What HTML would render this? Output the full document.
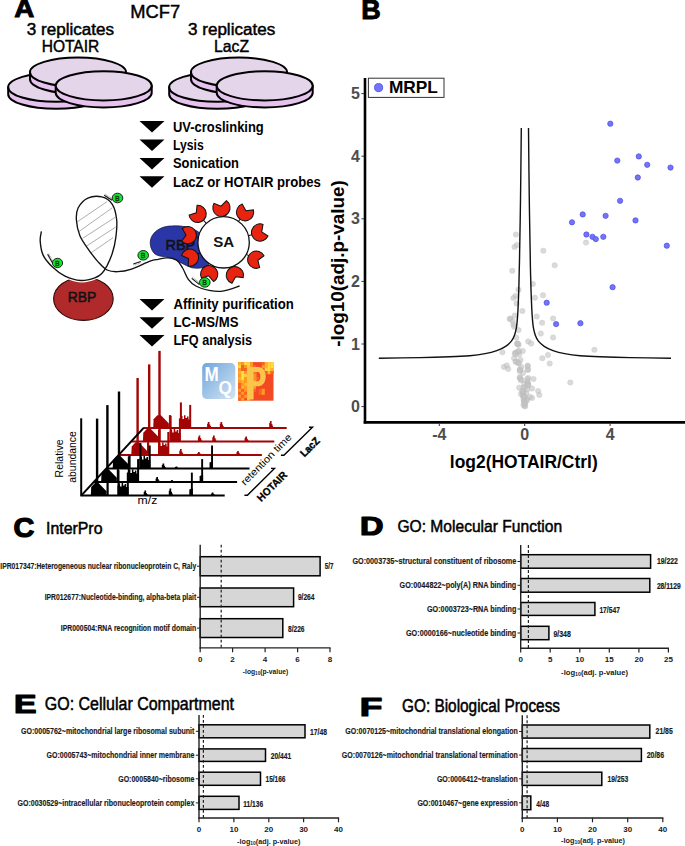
<!DOCTYPE html>
<html><head><meta charset="utf-8"><title>Figure</title>
<style>
html,body{margin:0;padding:0;background:#fff;width:685px;height:846px;overflow:hidden}
svg{display:block}
text{font-family:"Liberation Sans",sans-serif}
</style></head>
<body>
<svg width="685" height="846" viewBox="0 0 685 846">
<rect width="685" height="846" fill="#fff"/>
<text x="0" y="0" transform="translate(14.3,17.3) scale(1.07,1)" font-size="26" font-weight="bold" stroke="#000" stroke-width="0.9">A</text>
<text x="130.3" y="17.9" font-size="18.5" font-weight="normal" fill="#000" textLength="49.9" lengthAdjust="spacingAndGlyphs" stroke="#000" stroke-width="0.45">MCF7</text>
<text x="26.8" y="34.6" font-size="15.6" font-weight="normal" fill="#000" textLength="87.2" lengthAdjust="spacingAndGlyphs" stroke="#000" stroke-width="0.45">3 replicates</text>
<text x="41.7" y="52.4" font-size="16.6" font-weight="normal" fill="#000" textLength="57.6" lengthAdjust="spacingAndGlyphs" stroke="#000" stroke-width="0.45">HOTAIR</text>
<text x="188.0" y="34.6" font-size="15.6" font-weight="normal" fill="#000" textLength="87.2" lengthAdjust="spacingAndGlyphs" stroke="#000" stroke-width="0.45">3 replicates</text>
<text x="214.0" y="52.4" font-size="16.6" font-weight="normal" fill="#000" textLength="35.0" lengthAdjust="spacingAndGlyphs" stroke="#000" stroke-width="0.45">LacZ</text>
<path d="M8.2,87.2 L8.2,94.2 A48,14.6 0 0 0 104.2,94.2 L104.2,87.2 Z" fill="#E6C3EE" stroke="#000" stroke-width="2" stroke-linejoin="round"/>
<ellipse cx="56.2" cy="87.2" rx="48" ry="14.6" fill="#E5D5EA" stroke="#000" stroke-width="2"/>
<path d="M30.0,72.2 L30.0,79.2 A48,14.6 0 0 0 126.0,79.2 L126.0,72.2 Z" fill="#E6C3EE" stroke="#000" stroke-width="2" stroke-linejoin="round"/>
<ellipse cx="78.0" cy="72.2" rx="48" ry="14.6" fill="#E5D5EA" stroke="#000" stroke-width="2"/>
<path d="M55.7,85.8 L55.7,92.8 A48,14.6 0 0 0 151.7,92.8 L151.7,85.8 Z" fill="#E6C3EE" stroke="#000" stroke-width="2" stroke-linejoin="round"/>
<ellipse cx="103.7" cy="85.8" rx="48" ry="14.6" fill="#E5D5EA" stroke="#000" stroke-width="2"/>
<path d="M169.2,87.2 L169.2,94.2 A48,14.6 0 0 0 265.2,94.2 L265.2,87.2 Z" fill="#E6C3EE" stroke="#000" stroke-width="2" stroke-linejoin="round"/>
<ellipse cx="217.2" cy="87.2" rx="48" ry="14.6" fill="#E5D5EA" stroke="#000" stroke-width="2"/>
<path d="M191.0,72.2 L191.0,79.2 A48,14.6 0 0 0 287.0,79.2 L287.0,72.2 Z" fill="#E6C3EE" stroke="#000" stroke-width="2" stroke-linejoin="round"/>
<ellipse cx="239.0" cy="72.2" rx="48" ry="14.6" fill="#E5D5EA" stroke="#000" stroke-width="2"/>
<path d="M216.7,85.8 L216.7,92.8 A48,14.6 0 0 0 312.7,92.8 L312.7,85.8 Z" fill="#E6C3EE" stroke="#000" stroke-width="2" stroke-linejoin="round"/>
<ellipse cx="264.7" cy="85.8" rx="48" ry="14.6" fill="#E5D5EA" stroke="#000" stroke-width="2"/>
<path d="M139.5,121.0 L164.5,121.0 L152,132.5 Z" fill="#000"/>
<text x="173.0" y="131.5" font-size="14" font-weight="bold" fill="#000" textLength="90.8" lengthAdjust="spacingAndGlyphs" >UV-croslinking</text>
<path d="M139.5,139.4 L164.5,139.4 L152,150.9 Z" fill="#000"/>
<text x="173.0" y="149.9" font-size="14" font-weight="bold" fill="#000" textLength="30.7" lengthAdjust="spacingAndGlyphs" >Lysis</text>
<path d="M139.5,157.9 L164.5,157.9 L152,169.4 Z" fill="#000"/>
<text x="173.0" y="168.4" font-size="14" font-weight="bold" fill="#000" textLength="65.9" lengthAdjust="spacingAndGlyphs" >Sonication</text>
<path d="M139.5,176.2 L164.5,176.2 L152,187.7 Z" fill="#000"/>
<text x="173.0" y="186.7" font-size="14" font-weight="bold" fill="#000" textLength="147.8" lengthAdjust="spacingAndGlyphs" >LacZ or HOTAIR probes</text>
<path d="M139.5,299.0 L164.5,299.0 L152,310.5 Z" fill="#000"/>
<text x="173.4" y="308.6" font-size="14" font-weight="bold" fill="#000" textLength="120.4" lengthAdjust="spacingAndGlyphs" >Affinity purification</text>
<path d="M139.5,317.2 L164.5,317.2 L152,328.7 Z" fill="#000"/>
<text x="173.4" y="326.8" font-size="14" font-weight="bold" fill="#000" textLength="65.1" lengthAdjust="spacingAndGlyphs" >LC-MS/MS</text>
<path d="M139.5,335.0 L164.5,335.0 L152,346.5 Z" fill="#000"/>
<text x="173.4" y="344.6" font-size="14" font-weight="bold" fill="#000" textLength="78.7" lengthAdjust="spacingAndGlyphs" >LFQ analysis</text>
<defs><clipPath id="rbpclip"><path d="M40.2,243.0 C40.7,245.3 41.0,252.6 43.1,257.0 C45.2,261.4 49.1,265.7 52.8,269.2 C56.4,272.7 60.3,275.8 65.0,278.0 C69.7,280.2 75.8,282.1 80.8,282.4 C85.8,282.7 91.3,281.0 94.8,279.8 C98.3,278.6 99.8,277.4 101.8,275.4 C103.8,273.3 105.3,270.9 107.1,267.5 C108.8,264.1 111.4,257.2 112.3,255.2 L125,340 L35,340 Z"/></clipPath></defs>
<ellipse cx="83.4" cy="298.8" rx="29.8" ry="21.6" fill="#B02A2C" stroke="#2a0808" stroke-width="1.1" clip-path="url(#rbpclip)"/>
<text x="67.7" y="302.4" font-size="14" font-weight="normal" fill="#111" textLength="28.5" lengthAdjust="spacingAndGlyphs" stroke="#111" stroke-width="0.5">RBP</text>
<defs><clipPath id="loopclip"><path d="M101.8,273.5 C102.7,272.2 105.3,269.0 107.1,265.6 C108.8,262.2 110.8,258.0 112.3,253.3 C113.8,248.6 115.1,243.2 115.8,237.6 C116.5,232.0 117.3,225.6 116.7,220.0 C116.1,214.4 114.8,208.2 112.3,204.3 C109.8,200.5 105.9,197.9 101.8,196.9 C97.7,195.9 91.7,196.3 87.8,198.1 C83.9,199.9 80.1,204.2 78.2,207.8 C76.3,211.5 76.1,215.3 76.4,220.0 C76.7,224.7 77.9,230.8 79.9,235.8 C82.0,240.8 85.6,245.4 88.7,249.8 C91.8,254.2 95.2,258.7 98.3,262.1 C101.4,265.5 105.6,268.7 107.1,270.0 Z"/></clipPath></defs>
<g clip-path="url(#loopclip)" stroke="#8a8a8a" stroke-width="0.7">
<line x1="77.3" y1="221.8" x2="107.1" y2="201.6"/>
<line x1="79.1" y1="231.4" x2="112.3" y2="207.8"/>
<line x1="82.6" y1="238.4" x2="115" y2="217.4"/>
<line x1="86.1" y1="246.3" x2="115.8" y2="227"/>
<line x1="90.4" y1="253.3" x2="113.2" y2="237.6"/>
</g>
<path d="M152,250 C146,238 156,226 172,226 C188,225 200,230 206,240 L210,262 C208,268 200,268.8 192,267.8 C184,265.5 178,260 170,257.5 C162,256 155,257 152,250 Z" fill="#2B36A6" stroke="#1a1a4a" stroke-width="0.8"/>
<text x="165.5" y="249.7" font-size="14" font-weight="normal" fill="#111" textLength="29.7" lengthAdjust="spacingAndGlyphs" stroke="#111" stroke-width="0.55">RBP</text>
<path d="M41.4,231.4 C41.2,233.0 39.9,237.2 40.2,241.1 C40.5,245.0 41.0,250.7 43.1,255.1 C45.2,259.5 49.1,263.8 52.8,267.3 C56.4,270.8 60.3,273.9 65.0,276.1 C69.7,278.3 75.8,280.2 80.8,280.5 C85.8,280.8 91.3,279.1 94.8,277.9 C98.3,276.7 99.8,275.6 101.8,273.5 C103.8,271.4 105.3,269.0 107.1,265.6 C108.8,262.2 110.8,258.0 112.3,253.3 C113.8,248.6 115.1,243.2 115.8,237.6 C116.5,232.0 117.3,225.6 116.7,220.0 C116.1,214.4 114.8,208.2 112.3,204.3 C109.8,200.5 105.9,197.9 101.8,196.9 C97.7,195.9 91.7,196.3 87.8,198.1 C83.9,199.9 80.1,204.2 78.2,207.8 C76.3,211.5 76.1,215.3 76.4,220.0 C76.7,224.7 77.9,230.8 79.9,235.8 C82.0,240.8 85.6,245.4 88.7,249.8 C91.8,254.2 95.2,258.7 98.3,262.1 C101.4,265.5 103.9,268.4 107.1,270.0 C110.3,271.6 113.5,271.8 117.6,271.7 C121.7,271.6 126.2,270.9 131.6,269.1 C137.0,267.4 145.6,262.8 150.0,261.2 C154.4,259.6 155.1,259.9 158.0,259.4 C160.9,258.8 164.2,257.7 167.4,257.9 C170.6,258.1 174.5,258.7 177.0,260.4 C179.5,262.1 180.7,264.9 182.6,268.0 C184.5,271.1 186.1,276.3 188.3,279.3 C190.5,282.3 192.4,284.1 195.9,286.0 C199.4,287.9 204.8,289.5 209.2,290.4 C213.6,291.2 217.4,291.8 222.5,291.1 C227.6,290.4 236.8,286.9 239.6,286.0" fill="none" stroke="#111" stroke-width="1.35"/>
<g transform="translate(197.6,213.9) rotate(-42.5)"><line x1="0" y1="7.5" x2="0" y2="13.3" stroke="#111" stroke-width="1"/><path transform="rotate(-8) scale(1.08)" d="M-5.85,-5.45 A8,8 0 1 0 5.85,-5.45 L0,-1.6 Z" fill="#E8230F" stroke="#111" stroke-width="0.95"/></g>
<g transform="translate(221.4,207.8) rotate(-3.7)"><line x1="0" y1="7.5" x2="0" y2="9.4" stroke="#111" stroke-width="1"/><path transform="rotate(-8) scale(1.08)" d="M-5.85,-5.45 A8,8 0 1 0 5.85,-5.45 L0,-1.6 Z" fill="#E8230F" stroke="#111" stroke-width="0.95"/></g>
<g transform="translate(245.1,212.2) rotate(35.6)"><line x1="0" y1="7.5" x2="0" y2="11.8" stroke="#111" stroke-width="1"/><path transform="rotate(-8) scale(1.08)" d="M-5.85,-5.45 A8,8 0 1 0 5.85,-5.45 L0,-1.6 Z" fill="#E8230F" stroke="#111" stroke-width="0.95"/></g>
<g transform="translate(260.1,232.5) rotate(74.9)"><line x1="0" y1="7.5" x2="0" y2="12.6" stroke="#111" stroke-width="1"/><path transform="rotate(-8) scale(1.08)" d="M-5.85,-5.45 A8,8 0 1 0 5.85,-5.45 L0,-1.6 Z" fill="#E8230F" stroke="#111" stroke-width="0.95"/></g>
<g transform="translate(256.3,259.7) rotate(118.0)"><line x1="0" y1="7.5" x2="0" y2="11.8" stroke="#111" stroke-width="1"/><path transform="rotate(-8) scale(1.08)" d="M-5.85,-5.45 A8,8 0 1 0 5.85,-5.45 L0,-1.6 Z" fill="#E8230F" stroke="#111" stroke-width="0.95"/></g>
<g transform="translate(234.9,275.2) rotate(161.1)"><line x1="0" y1="7.5" x2="0" y2="9.6" stroke="#111" stroke-width="1"/><path transform="rotate(-8) scale(1.08)" d="M-5.85,-5.45 A8,8 0 1 0 5.85,-5.45 L0,-1.6 Z" fill="#E8230F" stroke="#111" stroke-width="0.95"/></g>
<g transform="translate(209.2,274.2) rotate(204.3)"><line x1="0" y1="7.5" x2="0" y2="9.8" stroke="#111" stroke-width="1"/><path transform="rotate(-8) scale(1.08)" d="M-5.85,-5.45 A8,8 0 1 0 5.85,-5.45 L0,-1.6 Z" fill="#E8230F" stroke="#111" stroke-width="0.95"/></g>
<g transform="translate(189.9,257.6) rotate(245.6)"><line x1="0" y1="7.5" x2="0" y2="11.8" stroke="#111" stroke-width="1"/><path transform="rotate(-8) scale(1.08)" d="M-5.85,-5.45 A8,8 0 1 0 5.85,-5.45 L0,-1.6 Z" fill="#E8230F" stroke="#111" stroke-width="0.95"/></g>
<g transform="translate(187.8,235.2) rotate(281.2)"><line x1="0" y1="7.5" x2="0" y2="11.3" stroke="#111" stroke-width="1"/><path transform="rotate(-8) scale(1.08)" d="M-5.85,-5.45 A8,8 0 1 0 5.85,-5.45 L0,-1.6 Z" fill="#E8230F" stroke="#111" stroke-width="0.95"/></g>
<circle cx="223.6" cy="242.3" r="25.7" fill="#fff" stroke="#111" stroke-width="1.3"/>
<text x="213.2" y="246.8" font-size="14" font-weight="bold" fill="#111" textLength="21.0" lengthAdjust="spacingAndGlyphs" >SA</text>
<line x1="104.9" y1="194.1" x2="112.7" y2="199.2" stroke="#999" stroke-width="1.3" stroke-dasharray="0.7,0.8"/>
<line x1="104.2" y1="195.2" x2="112.0" y2="200.3" stroke="#111" stroke-width="1.1"/>
<line x1="48.7" y1="253.6" x2="53.3" y2="262.0" stroke="#999" stroke-width="1.3" stroke-dasharray="0.7,0.8"/>
<line x1="47.6" y1="254.2" x2="52.2" y2="262.6" stroke="#111" stroke-width="1.1"/>
<line x1="133.7" y1="265.2" x2="141.2" y2="262.8" stroke="#999" stroke-width="1.3" stroke-dasharray="0.7,0.8"/>
<line x1="133.3" y1="264.0" x2="140.8" y2="261.6" stroke="#111" stroke-width="1.1"/>
<line x1="192.5" y1="277.4" x2="200.3" y2="283.6" stroke="#999" stroke-width="1.3" stroke-dasharray="0.7,0.8"/>
<line x1="191.7" y1="278.4" x2="199.5" y2="284.6" stroke="#111" stroke-width="1.1"/>
<ellipse cx="117.5" cy="198.0" rx="5.3" ry="4.8" fill="#0FE82E" stroke="#111" stroke-width="0.9"/>
<text x="117.4" y="200.5" font-size="7" text-anchor="middle" fill="#22d040" stroke="#0a300a" stroke-width="0.45">B</text>
<ellipse cx="57.5" cy="263.0" rx="5.1" ry="4.7" fill="#0FE82E" stroke="#111" stroke-width="0.9"/>
<text x="57.4" y="265.5" font-size="7" text-anchor="middle" fill="#22d040" stroke="#0a300a" stroke-width="0.45">B</text>
<ellipse cx="143.2" cy="255.3" rx="5.3" ry="4.8" fill="#0FE82E" stroke="#111" stroke-width="0.9"/>
<text x="143.1" y="257.8" font-size="7" text-anchor="middle" fill="#22d040" stroke="#0a300a" stroke-width="0.45">B</text>
<ellipse cx="204.8" cy="282.4" rx="5.3" ry="4.8" fill="#0FE82E" stroke="#111" stroke-width="0.9"/>
<text x="204.70000000000002" y="284.9" font-size="7" text-anchor="middle" fill="#22d040" stroke="#0a300a" stroke-width="0.45">B</text>
<line x1="143.7" y1="427.9" x2="286.7" y2="427.9" stroke="#A30505" stroke-width="2"/>
<polygon points="153.2,427.9 153.6,419.2 157.3,415.2 160.9,415.2 168.9,423.6 168.9,427.9" fill="#A30505"/>
<polygon points="179.9,427.9 179.9,417.9 181.0,417.9 181.0,415.9 182.5,415.9 182.5,418.9 184.0,418.9 184.0,415.2 185.5,415.2 185.5,417.9 187.0,417.9 187.0,416.4 188.5,416.4 188.5,419.4 190.8,419.4 190.8,427.9" fill="#A30505"/>
<rect x="158.3" y="350.9" width="2.4" height="77" fill="#A30505"/>
<rect x="168.9" y="415.1" width="2.2" height="12.8" fill="#A30505"/>
<rect x="179.9" y="402.4" width="2" height="25.5" fill="#A30505"/>
<rect x="189.2" y="404.9" width="2" height="23" fill="#A30505"/>
<polygon points="207.1,427.9 207.1,423.7 207.8,423.7 207.8,421.9 209.5,421.9 209.5,424.6 210.3,424.6 210.3,426.1 211.0,426.1 211.0,427.9" fill="#A30505"/>
<polygon points="219.8,427.9 219.8,423.7 220.5,423.7 220.5,421.9 222.2,421.9 222.2,424.6 223.0,424.6 223.0,426.1 223.7,426.1 223.7,427.9" fill="#A30505"/>
<polygon points="269.2,427.9 269.2,423.0 269.9,423.0 269.9,420.9 271.6,420.9 271.6,424.0 272.4,424.0 272.4,425.8 273.1,425.8 273.1,427.9" fill="#A30505"/>
<line x1="131.3" y1="441.4" x2="274.3" y2="441.4" stroke="#A30505" stroke-width="2"/>
<polygon points="142.9,441.4 143.3,432.8 147.0,428.8 150.6,428.8 158.6,437.1 158.6,441.4" fill="#A30505"/>
<polygon points="169.6,441.4 169.6,431.4 170.7,431.4 170.7,429.4 172.2,429.4 172.2,432.4 173.7,432.4 173.7,428.8 175.2,428.8 175.2,431.4 176.7,431.4 176.7,429.9 178.2,429.9 178.2,432.9 180.5,432.9 180.5,441.4" fill="#A30505"/>
<rect x="148.0" y="364.4" width="2.4" height="77" fill="#A30505"/>
<rect x="158.6" y="428.6" width="2.2" height="12.8" fill="#A30505"/>
<rect x="169.6" y="415.9" width="2" height="25.5" fill="#A30505"/>
<rect x="178.9" y="418.4" width="2" height="23" fill="#A30505"/>
<polygon points="197.9,441.4 197.9,437.2 198.6,437.2 198.6,435.4 200.3,435.4 200.3,438.1 201.1,438.1 201.1,439.6 201.8,439.6 201.8,441.4" fill="#A30505"/>
<polygon points="212.3,441.4 212.3,437.2 213.0,437.2 213.0,435.4 214.7,435.4 214.7,438.1 215.5,438.1 215.5,439.6 216.2,439.6 216.2,441.4" fill="#A30505"/>
<polygon points="244.6,441.4 244.6,437.9 245.3,437.9 245.3,436.4 247.0,436.4 247.0,438.7 247.8,438.7 247.8,439.9 248.5,439.9 248.5,441.4" fill="#A30505"/>
<line x1="118.9" y1="455.0" x2="261.9" y2="455.0" stroke="#A30505" stroke-width="2"/>
<polygon points="131.3,455.0 131.7,446.4 135.4,442.4 139.0,442.4 147.0,450.7 147.0,455.0" fill="#A30505"/>
<polygon points="158.0,455.0 158.0,445.0 159.1,445.0 159.1,443.0 160.6,443.0 160.6,446.0 162.1,446.0 162.1,442.4 163.6,442.4 163.6,445.0 165.1,445.0 165.1,443.5 166.6,443.5 166.6,446.5 168.9,446.5 168.9,455.0" fill="#A30505"/>
<rect x="136.4" y="378.0" width="2.4" height="77" fill="#A30505"/>
<rect x="147.0" y="442.2" width="2.2" height="12.8" fill="#A30505"/>
<rect x="158.0" y="429.5" width="2" height="25.5" fill="#A30505"/>
<rect x="167.3" y="432.0" width="2" height="23" fill="#A30505"/>
<polygon points="179.3,455.0 179.3,450.8 180.0,450.8 180.0,449.0 181.7,449.0 181.7,451.7 182.5,451.7 182.5,453.2 183.2,453.2 183.2,455.0" fill="#A30505"/>
<polygon points="197.3,455.0 197.3,452.9 198.0,452.9 198.0,452.0 199.7,452.0 199.7,453.3 200.5,453.3 200.5,454.1 201.2,454.1 201.2,455.0" fill="#A30505"/>
<polygon points="236.4,455.0 236.4,452.2 237.1,452.2 237.1,451.0 238.8,451.0 238.8,452.8 239.6,452.8 239.6,453.8 240.3,453.8 240.3,455.0" fill="#A30505"/>
<line x1="106.5" y1="468.5" x2="249.5" y2="468.5" stroke="#000" stroke-width="2"/>
<polygon points="112.7,468.5 113.1,459.9 116.8,455.9 120.4,455.9 128.4,464.2 128.4,468.5" fill="#000"/>
<polygon points="139.4,468.5 139.4,458.5 140.5,458.5 140.5,456.5 142.0,456.5 142.0,459.5 143.5,459.5 143.5,455.9 145.0,455.9 145.0,458.5 146.5,458.5 146.5,457.0 148.0,457.0 148.0,460.0 150.3,460.0 150.3,468.5" fill="#000"/>
<rect x="117.8" y="391.5" width="2.4" height="77" fill="#000"/>
<rect x="128.4" y="455.7" width="2.2" height="12.8" fill="#000"/>
<rect x="139.4" y="443.0" width="2" height="25.5" fill="#000"/>
<rect x="148.7" y="445.5" width="2" height="23" fill="#000"/>
<polygon points="161.8,468.5 161.8,465.0 162.5,465.0 162.5,463.5 164.2,463.5 164.2,465.8 165.0,465.8 165.0,467.0 165.7,467.0 165.7,468.5" fill="#000"/>
<polygon points="174.9,468.5 174.9,467.1 175.6,467.1 175.6,466.5 177.3,466.5 177.3,467.4 178.1,467.4 178.1,467.9 178.8,467.9 178.8,468.5" fill="#000"/>
<rect x="211.1" y="445.5" width="1.9" height="23" fill="#000"/>
<polygon points="209.5,468.5 209.5,462.5 212.0,461.5 213.0,461.5 213.0,468.5" fill="#000"/>
<line x1="94.1" y1="482.1" x2="237.1" y2="482.1" stroke="#000" stroke-width="2"/>
<polygon points="101.1,482.1 101.5,473.4 105.2,469.4 108.8,469.4 116.8,477.8 116.8,482.1" fill="#000"/>
<polygon points="127.8,482.1 127.8,472.1 128.9,472.1 128.9,470.1 130.4,470.1 130.4,473.1 131.9,473.1 131.9,469.4 133.4,469.4 133.4,472.1 134.9,472.1 134.9,470.6 136.4,470.6 136.4,473.6 138.7,473.6 138.7,482.1" fill="#000"/>
<rect x="106.2" y="405.1" width="2.4" height="77" fill="#000"/>
<rect x="116.8" y="469.2" width="2.2" height="12.8" fill="#000"/>
<rect x="127.8" y="456.6" width="2" height="25.5" fill="#000"/>
<rect x="137.1" y="459.1" width="2" height="23" fill="#000"/>
<polygon points="155.6,482.1 155.6,478.6 156.3,478.6 156.3,477.1 158.0,477.1 158.0,479.3 158.8,479.3 158.8,480.6 159.5,480.6 159.5,482.1" fill="#000"/>
<polygon points="170.5,482.1 170.5,480.7 171.2,480.7 171.2,480.1 172.9,480.1 172.9,480.9 173.7,480.9 173.7,481.4 174.4,481.4 174.4,482.1" fill="#000"/>
<rect x="201.2" y="459.1" width="1.9" height="23" fill="#000"/>
<polygon points="199.6,482.1 199.6,476.1 202.1,475.1 203.1,475.1 203.1,482.1" fill="#000"/>
<line x1="81.7" y1="495.6" x2="224.7" y2="495.6" stroke="#000" stroke-width="2"/>
<polygon points="90.8,495.6 91.2,487.0 94.9,483.0 98.5,483.0 106.5,491.3 106.5,495.6" fill="#000"/>
<polygon points="117.5,495.6 117.5,485.6 118.6,485.6 118.6,483.6 120.1,483.6 120.1,486.6 121.6,486.6 121.6,483.0 123.1,483.0 123.1,485.6 124.6,485.6 124.6,484.1 126.1,484.1 126.1,487.1 128.4,487.1 128.4,495.6" fill="#000"/>
<rect x="95.9" y="418.6" width="2.4" height="77" fill="#000"/>
<rect x="106.5" y="482.8" width="2.2" height="12.8" fill="#000"/>
<rect x="117.5" y="470.1" width="2" height="25.5" fill="#000"/>
<rect x="126.8" y="472.6" width="2" height="23" fill="#000"/>
<polygon points="143.7,495.6 143.7,492.1 144.4,492.1 144.4,490.6 146.1,490.6 146.1,492.9 146.9,492.9 146.9,494.1 147.6,494.1 147.6,495.6" fill="#000"/>
<polygon points="168.8,495.6 168.8,490.7 169.5,490.7 169.5,488.6 171.2,488.6 171.2,491.8 172.0,491.8 172.0,493.5 172.7,493.5 172.7,495.6" fill="#000"/>
<polygon points="211.1,495.6 211.1,493.5 211.8,493.5 211.8,492.6 213.5,492.6 213.5,494.0 214.3,494.0 214.3,494.7 215.0,494.7 215.0,495.6" fill="#000"/>
<rect x="190.9" y="472.6" width="1.9" height="23" fill="#000"/>
<polygon points="189.3,495.6 189.3,489.6 191.8,488.6 192.8,488.6 192.8,495.6" fill="#000"/>
<line x1="81.2" y1="418.3" x2="81.2" y2="496.4" stroke="#000" stroke-width="2"/>
<line x1="81.2" y1="495.6" x2="143.9" y2="427.6" stroke="#000" stroke-width="2"/>
<text x="0" y="0" font-size="10.5" transform="translate(62.5,477.4) rotate(-90)" textLength="37.9" lengthAdjust="spacingAndGlyphs">Relative</text>
<text x="0" y="0" font-size="10.5" transform="translate(75.5,482.7) rotate(-90)" textLength="51.4" lengthAdjust="spacingAndGlyphs">abundance</text>
<text x="137.6" y="504.0" font-size="10.5" font-weight="normal" fill="#000" textLength="19.7" lengthAdjust="spacingAndGlyphs" >m/z</text>
<polyline points="244.4,495.3 247.4,495.3 274.5,468.4 271.0,468.4" fill="none" stroke="#000" stroke-width="1.4"/>
<polyline points="280.9,455.2 283.9,455.2 312.5,427.2 309.0,427.2" fill="none" stroke="#000" stroke-width="1.4"/>
<text x="0" y="0" font-size="10.2" font-weight="normal" transform="translate(245.0,486.0) rotate(-45.5)" textLength="67.5" lengthAdjust="spacingAndGlyphs">retention time</text>
<text x="0" y="0" font-size="10.5" font-weight="bold" transform="translate(261.3,502.2) rotate(-45)" textLength="37.5" lengthAdjust="spacingAndGlyphs" stroke="#000" stroke-width="0.3">HOTAIR</text>
<text x="0" y="0" font-size="10.6" font-weight="bold" transform="translate(304.4,457.6) rotate(-45)" textLength="22.5" lengthAdjust="spacingAndGlyphs" stroke="#000" stroke-width="0.45">LacZ</text>
<defs><linearGradient id="mqg" x1="0" y1="0" x2="1" y2="1"><stop offset="0" stop-color="#6FA6DC"/><stop offset="1" stop-color="#D3E4F4"/></linearGradient></defs>
<rect x="202.2" y="363.1" width="33.1" height="35.9" rx="4.5" fill="url(#mqg)"/>
<text x="204.6" y="380.6" font-size="19.5" font-weight="bold" fill="#fff" textLength="14.2" lengthAdjust="spacingAndGlyphs">M</text>
<text x="218.4" y="394.4" font-size="18.5" font-weight="bold" fill="#fff" textLength="13.4" lengthAdjust="spacingAndGlyphs">Q</text>
<rect x="238.2" y="362.1" width="35.3" height="38.6" fill="#F34A24"/>
<rect x="238.20" y="362.10" width="3.09" height="3.12" fill="#FFB52C"/>
<rect x="241.14" y="362.10" width="3.09" height="3.12" fill="#FF9A22"/>
<rect x="244.08" y="362.10" width="3.09" height="3.12" fill="#FFE03A"/>
<rect x="247.02" y="362.10" width="3.09" height="3.12" fill="#FFD24A"/>
<rect x="249.97" y="362.10" width="3.09" height="3.12" fill="#FF9A22"/>
<rect x="261.73" y="362.10" width="3.09" height="3.12" fill="#F86424"/>
<rect x="264.68" y="362.10" width="3.09" height="3.12" fill="#FFB52C"/>
<rect x="267.62" y="362.10" width="3.09" height="3.12" fill="#FFE03A"/>
<rect x="270.56" y="362.10" width="3.09" height="3.12" fill="#FFE03A"/>
<rect x="238.20" y="365.07" width="3.09" height="3.12" fill="#FFE03A"/>
<rect x="241.14" y="365.07" width="3.09" height="3.12" fill="#F86424"/>
<rect x="244.08" y="365.07" width="3.09" height="3.12" fill="#FF9A22"/>
<rect x="247.02" y="365.07" width="3.09" height="3.12" fill="#FFD24A"/>
<rect x="249.97" y="365.07" width="3.09" height="3.12" fill="#FF9A22"/>
<rect x="252.91" y="365.07" width="3.09" height="3.12" fill="#F86424"/>
<rect x="261.73" y="365.07" width="3.09" height="3.12" fill="#FF9A22"/>
<rect x="264.68" y="365.07" width="3.09" height="3.12" fill="#FFB52C"/>
<rect x="267.62" y="365.07" width="3.09" height="3.12" fill="#FFE03A"/>
<rect x="270.56" y="365.07" width="3.09" height="3.12" fill="#FFE03A"/>
<rect x="238.20" y="368.04" width="3.09" height="3.12" fill="#FF9A22"/>
<rect x="241.14" y="368.04" width="3.09" height="3.12" fill="#F86424"/>
<rect x="244.08" y="368.04" width="3.09" height="3.12" fill="#F86424"/>
<rect x="247.02" y="368.04" width="3.09" height="3.12" fill="#FF9A22"/>
<rect x="249.97" y="368.04" width="3.09" height="3.12" fill="#FFB52C"/>
<rect x="252.91" y="368.04" width="3.09" height="3.12" fill="#F86424"/>
<rect x="261.73" y="368.04" width="3.09" height="3.12" fill="#F86424"/>
<rect x="264.68" y="368.04" width="3.09" height="3.12" fill="#FFD24A"/>
<rect x="267.62" y="368.04" width="3.09" height="3.12" fill="#FFE03A"/>
<rect x="270.56" y="368.04" width="3.09" height="3.12" fill="#FFB52C"/>
<rect x="238.20" y="371.01" width="3.09" height="3.12" fill="#FFB52C"/>
<rect x="241.14" y="371.01" width="3.09" height="3.12" fill="#FFE03A"/>
<rect x="244.08" y="371.01" width="3.09" height="3.12" fill="#FF9A22"/>
<rect x="247.02" y="371.01" width="3.09" height="3.12" fill="#FFB52C"/>
<rect x="249.97" y="371.01" width="3.09" height="3.12" fill="#FF9A22"/>
<rect x="264.68" y="371.01" width="3.09" height="3.12" fill="#F86424"/>
<rect x="267.62" y="371.01" width="3.09" height="3.12" fill="#FFB52C"/>
<rect x="270.56" y="371.01" width="3.09" height="3.12" fill="#F86424"/>
<rect x="238.20" y="373.98" width="3.09" height="3.12" fill="#FF9A22"/>
<rect x="241.14" y="373.98" width="3.09" height="3.12" fill="#FFE03A"/>
<rect x="244.08" y="373.98" width="3.09" height="3.12" fill="#FFD24A"/>
<rect x="247.02" y="373.98" width="3.09" height="3.12" fill="#FF9A22"/>
<rect x="249.97" y="373.98" width="3.09" height="3.12" fill="#FFB52C"/>
<rect x="252.91" y="373.98" width="3.09" height="3.12" fill="#FF9A22"/>
<rect x="238.20" y="376.95" width="3.09" height="3.12" fill="#FFB52C"/>
<rect x="241.14" y="376.95" width="3.09" height="3.12" fill="#FFE03A"/>
<rect x="244.08" y="376.95" width="3.09" height="3.12" fill="#FF9A22"/>
<rect x="247.02" y="376.95" width="3.09" height="3.12" fill="#FFD24A"/>
<rect x="249.97" y="376.95" width="3.09" height="3.12" fill="#FF9A22"/>
<rect x="252.91" y="376.95" width="3.09" height="3.12" fill="#FF9A22"/>
<rect x="255.85" y="376.95" width="3.09" height="3.12" fill="#F86424"/>
<rect x="238.20" y="379.92" width="3.09" height="3.12" fill="#FF9A22"/>
<rect x="241.14" y="379.92" width="3.09" height="3.12" fill="#FFB52C"/>
<rect x="244.08" y="379.92" width="3.09" height="3.12" fill="#FF9A22"/>
<rect x="247.02" y="379.92" width="3.09" height="3.12" fill="#FF9A22"/>
<rect x="249.97" y="379.92" width="3.09" height="3.12" fill="#FF9A22"/>
<rect x="252.91" y="379.92" width="3.09" height="3.12" fill="#FFB52C"/>
<rect x="238.20" y="382.88" width="3.09" height="3.12" fill="#F86424"/>
<rect x="241.14" y="382.88" width="3.09" height="3.12" fill="#FF9A22"/>
<rect x="244.08" y="382.88" width="3.09" height="3.12" fill="#FFB52C"/>
<rect x="247.02" y="382.88" width="3.09" height="3.12" fill="#FF9A22"/>
<rect x="249.97" y="382.88" width="3.09" height="3.12" fill="#FF9A22"/>
<rect x="252.91" y="382.88" width="3.09" height="3.12" fill="#FF9A22"/>
<rect x="238.20" y="385.85" width="3.09" height="3.12" fill="#F86424"/>
<rect x="241.14" y="385.85" width="3.09" height="3.12" fill="#FFB52C"/>
<rect x="244.08" y="385.85" width="3.09" height="3.12" fill="#FF9A22"/>
<rect x="247.02" y="385.85" width="3.09" height="3.12" fill="#FF9A22"/>
<rect x="249.97" y="385.85" width="3.09" height="3.12" fill="#F86424"/>
<rect x="252.91" y="385.85" width="3.09" height="3.12" fill="#FF9A22"/>
<rect x="238.20" y="388.82" width="3.09" height="3.12" fill="#FF9A22"/>
<rect x="241.14" y="388.82" width="3.09" height="3.12" fill="#F86424"/>
<rect x="244.08" y="388.82" width="3.09" height="3.12" fill="#FF9A22"/>
<rect x="247.02" y="388.82" width="3.09" height="3.12" fill="#F86424"/>
<rect x="252.91" y="388.82" width="3.09" height="3.12" fill="#F86424"/>
<rect x="258.79" y="388.82" width="3.09" height="3.12" fill="#F86424"/>
<rect x="261.73" y="388.82" width="3.09" height="3.12" fill="#FF9A22"/>
<rect x="238.20" y="391.79" width="3.09" height="3.12" fill="#F86424"/>
<rect x="241.14" y="391.79" width="3.09" height="3.12" fill="#FF9A22"/>
<rect x="244.08" y="391.79" width="3.09" height="3.12" fill="#F86424"/>
<rect x="247.02" y="391.79" width="3.09" height="3.12" fill="#FF9A22"/>
<rect x="258.79" y="391.79" width="3.09" height="3.12" fill="#F86424"/>
<rect x="261.73" y="391.79" width="3.09" height="3.12" fill="#FF9A22"/>
<rect x="238.20" y="394.76" width="3.09" height="3.12" fill="#FF9A22"/>
<rect x="241.14" y="394.76" width="3.09" height="3.12" fill="#F86424"/>
<rect x="244.08" y="394.76" width="3.09" height="3.12" fill="#FF9A22"/>
<rect x="247.02" y="394.76" width="3.09" height="3.12" fill="#F86424"/>
<rect x="249.97" y="394.76" width="3.09" height="3.12" fill="#F86424"/>
<rect x="238.20" y="397.73" width="3.09" height="3.12" fill="#F86424"/>
<rect x="241.14" y="397.73" width="3.09" height="3.12" fill="#FF9A22"/>
<rect x="247.02" y="397.73" width="3.09" height="3.12" fill="#FFB52C"/>
<path fill-rule="evenodd" fill="#F8C64A" d="M247.1,367 H258.3 C262.9,367 265.7,371 265.7,376.6 C265.7,382.2 262.9,386.2 258.3,386.2 H253.6 V399.6 H247.1 Z M253.6,371.9 V381.3 H257.6 C259.6,381.3 260.4,379.2 260.4,376.6 C260.4,374 259.6,371.9 257.6,371.9 Z"/>
<rect x="253.8" y="372.1" width="3" height="9" fill="#FF8A26" opacity="0.7"/>
<text x="361.2" y="19.1" font-size="27" font-weight="bold" stroke="#000" stroke-width="0.9">B</text>
<circle cx="515.9" cy="234.5" r="2.75" fill="#C4C4C4" fill-opacity="0.62" stroke="#B0B0B0" stroke-opacity="0.5" stroke-width="0.4"/>
<circle cx="514.5" cy="247" r="2.75" fill="#C4C4C4" fill-opacity="0.62" stroke="#B0B0B0" stroke-opacity="0.5" stroke-width="0.4"/>
<circle cx="516.9" cy="245" r="2.75" fill="#C4C4C4" fill-opacity="0.62" stroke="#B0B0B0" stroke-opacity="0.5" stroke-width="0.4"/>
<circle cx="543.3" cy="250.7" r="2.75" fill="#C4C4C4" fill-opacity="0.62" stroke="#B0B0B0" stroke-opacity="0.5" stroke-width="0.4"/>
<circle cx="554.7" cy="265.3" r="2.75" fill="#C4C4C4" fill-opacity="0.62" stroke="#B0B0B0" stroke-opacity="0.5" stroke-width="0.4"/>
<circle cx="512.3" cy="270.8" r="2.75" fill="#C4C4C4" fill-opacity="0.62" stroke="#B0B0B0" stroke-opacity="0.5" stroke-width="0.4"/>
<circle cx="586" cy="242.6" r="2.75" fill="#C4C4C4" fill-opacity="0.62" stroke="#B0B0B0" stroke-opacity="0.5" stroke-width="0.4"/>
<circle cx="532.8" cy="283.9" r="2.75" fill="#C4C4C4" fill-opacity="0.62" stroke="#B0B0B0" stroke-opacity="0.5" stroke-width="0.4"/>
<circle cx="518.5" cy="289.8" r="2.75" fill="#C4C4C4" fill-opacity="0.62" stroke="#B0B0B0" stroke-opacity="0.5" stroke-width="0.4"/>
<circle cx="515.5" cy="295.9" r="2.75" fill="#C4C4C4" fill-opacity="0.62" stroke="#B0B0B0" stroke-opacity="0.5" stroke-width="0.4"/>
<circle cx="513.4" cy="298.1" r="2.75" fill="#C4C4C4" fill-opacity="0.62" stroke="#B0B0B0" stroke-opacity="0.5" stroke-width="0.4"/>
<circle cx="534.8" cy="297.7" r="2.75" fill="#C4C4C4" fill-opacity="0.62" stroke="#B0B0B0" stroke-opacity="0.5" stroke-width="0.4"/>
<circle cx="543" cy="295.2" r="2.75" fill="#C4C4C4" fill-opacity="0.62" stroke="#B0B0B0" stroke-opacity="0.5" stroke-width="0.4"/>
<circle cx="516.6" cy="303.6" r="2.75" fill="#C4C4C4" fill-opacity="0.62" stroke="#B0B0B0" stroke-opacity="0.5" stroke-width="0.4"/>
<circle cx="522.4" cy="311" r="2.75" fill="#C4C4C4" fill-opacity="0.62" stroke="#B0B0B0" stroke-opacity="0.5" stroke-width="0.4"/>
<circle cx="536.7" cy="316.6" r="2.75" fill="#C4C4C4" fill-opacity="0.62" stroke="#B0B0B0" stroke-opacity="0.5" stroke-width="0.4"/>
<circle cx="510.4" cy="318.5" r="2.75" fill="#C4C4C4" fill-opacity="0.62" stroke="#B0B0B0" stroke-opacity="0.5" stroke-width="0.4"/>
<circle cx="514.8" cy="315.6" r="2.75" fill="#C4C4C4" fill-opacity="0.62" stroke="#B0B0B0" stroke-opacity="0.5" stroke-width="0.4"/>
<circle cx="553.1" cy="318.5" r="2.75" fill="#C4C4C4" fill-opacity="0.62" stroke="#B0B0B0" stroke-opacity="0.5" stroke-width="0.4"/>
<circle cx="509.7" cy="319" r="2.75" fill="#C4C4C4" fill-opacity="0.62" stroke="#B0B0B0" stroke-opacity="0.5" stroke-width="0.4"/>
<circle cx="512.6" cy="321" r="2.75" fill="#C4C4C4" fill-opacity="0.62" stroke="#B0B0B0" stroke-opacity="0.5" stroke-width="0.4"/>
<circle cx="542.1" cy="322.8" r="2.75" fill="#C4C4C4" fill-opacity="0.62" stroke="#B0B0B0" stroke-opacity="0.5" stroke-width="0.4"/>
<circle cx="513.4" cy="324.6" r="2.75" fill="#C4C4C4" fill-opacity="0.62" stroke="#B0B0B0" stroke-opacity="0.5" stroke-width="0.4"/>
<circle cx="514.1" cy="326.8" r="2.75" fill="#C4C4C4" fill-opacity="0.62" stroke="#B0B0B0" stroke-opacity="0.5" stroke-width="0.4"/>
<circle cx="518.5" cy="330.1" r="2.75" fill="#C4C4C4" fill-opacity="0.62" stroke="#B0B0B0" stroke-opacity="0.5" stroke-width="0.4"/>
<circle cx="540.8" cy="333.6" r="2.75" fill="#C4C4C4" fill-opacity="0.62" stroke="#B0B0B0" stroke-opacity="0.5" stroke-width="0.4"/>
<circle cx="553.1" cy="337.4" r="2.75" fill="#C4C4C4" fill-opacity="0.62" stroke="#B0B0B0" stroke-opacity="0.5" stroke-width="0.4"/>
<circle cx="516.3" cy="337.7" r="2.75" fill="#C4C4C4" fill-opacity="0.62" stroke="#B0B0B0" stroke-opacity="0.5" stroke-width="0.4"/>
<circle cx="528.2" cy="341.4" r="2.75" fill="#C4C4C4" fill-opacity="0.62" stroke="#B0B0B0" stroke-opacity="0.5" stroke-width="0.4"/>
<circle cx="531.2" cy="343.6" r="2.75" fill="#C4C4C4" fill-opacity="0.62" stroke="#B0B0B0" stroke-opacity="0.5" stroke-width="0.4"/>
<circle cx="517" cy="343.6" r="2.75" fill="#C4C4C4" fill-opacity="0.62" stroke="#B0B0B0" stroke-opacity="0.5" stroke-width="0.4"/>
<circle cx="518.5" cy="345" r="2.75" fill="#C4C4C4" fill-opacity="0.62" stroke="#B0B0B0" stroke-opacity="0.5" stroke-width="0.4"/>
<circle cx="502.4" cy="352.3" r="2.75" fill="#C4C4C4" fill-opacity="0.62" stroke="#B0B0B0" stroke-opacity="0.5" stroke-width="0.4"/>
<circle cx="522.8" cy="350.9" r="2.75" fill="#C4C4C4" fill-opacity="0.62" stroke="#B0B0B0" stroke-opacity="0.5" stroke-width="0.4"/>
<circle cx="518.5" cy="350.9" r="2.75" fill="#C4C4C4" fill-opacity="0.62" stroke="#B0B0B0" stroke-opacity="0.5" stroke-width="0.4"/>
<circle cx="514.8" cy="353.1" r="2.75" fill="#C4C4C4" fill-opacity="0.62" stroke="#B0B0B0" stroke-opacity="0.5" stroke-width="0.4"/>
<circle cx="519.2" cy="354.5" r="2.75" fill="#C4C4C4" fill-opacity="0.62" stroke="#B0B0B0" stroke-opacity="0.5" stroke-width="0.4"/>
<circle cx="548" cy="355" r="2.75" fill="#C4C4C4" fill-opacity="0.62" stroke="#B0B0B0" stroke-opacity="0.5" stroke-width="0.4"/>
<circle cx="542.3" cy="358.2" r="2.75" fill="#C4C4C4" fill-opacity="0.62" stroke="#B0B0B0" stroke-opacity="0.5" stroke-width="0.4"/>
<circle cx="514.1" cy="358.2" r="2.75" fill="#C4C4C4" fill-opacity="0.62" stroke="#B0B0B0" stroke-opacity="0.5" stroke-width="0.4"/>
<circle cx="549.7" cy="363.6" r="2.75" fill="#C4C4C4" fill-opacity="0.62" stroke="#B0B0B0" stroke-opacity="0.5" stroke-width="0.4"/>
<circle cx="515.5" cy="361.8" r="2.75" fill="#C4C4C4" fill-opacity="0.62" stroke="#B0B0B0" stroke-opacity="0.5" stroke-width="0.4"/>
<circle cx="518.5" cy="363.3" r="2.75" fill="#C4C4C4" fill-opacity="0.62" stroke="#B0B0B0" stroke-opacity="0.5" stroke-width="0.4"/>
<circle cx="503.9" cy="366.9" r="2.75" fill="#C4C4C4" fill-opacity="0.62" stroke="#B0B0B0" stroke-opacity="0.5" stroke-width="0.4"/>
<circle cx="506.8" cy="365.5" r="2.75" fill="#C4C4C4" fill-opacity="0.62" stroke="#B0B0B0" stroke-opacity="0.5" stroke-width="0.4"/>
<circle cx="508.2" cy="369.1" r="2.75" fill="#C4C4C4" fill-opacity="0.62" stroke="#B0B0B0" stroke-opacity="0.5" stroke-width="0.4"/>
<circle cx="521.4" cy="366.9" r="2.75" fill="#C4C4C4" fill-opacity="0.62" stroke="#B0B0B0" stroke-opacity="0.5" stroke-width="0.4"/>
<circle cx="519.9" cy="369.9" r="2.75" fill="#C4C4C4" fill-opacity="0.62" stroke="#B0B0B0" stroke-opacity="0.5" stroke-width="0.4"/>
<circle cx="527.7" cy="365.5" r="2.75" fill="#C4C4C4" fill-opacity="0.62" stroke="#B0B0B0" stroke-opacity="0.5" stroke-width="0.4"/>
<circle cx="528" cy="369.9" r="2.75" fill="#C4C4C4" fill-opacity="0.62" stroke="#B0B0B0" stroke-opacity="0.5" stroke-width="0.4"/>
<circle cx="519.9" cy="377.2" r="2.75" fill="#C4C4C4" fill-opacity="0.62" stroke="#B0B0B0" stroke-opacity="0.5" stroke-width="0.4"/>
<circle cx="520.7" cy="380.1" r="2.75" fill="#C4C4C4" fill-opacity="0.62" stroke="#B0B0B0" stroke-opacity="0.5" stroke-width="0.4"/>
<circle cx="528.2" cy="377.9" r="2.75" fill="#C4C4C4" fill-opacity="0.62" stroke="#B0B0B0" stroke-opacity="0.5" stroke-width="0.4"/>
<circle cx="533.5" cy="378.9" r="2.75" fill="#C4C4C4" fill-opacity="0.62" stroke="#B0B0B0" stroke-opacity="0.5" stroke-width="0.4"/>
<circle cx="527.2" cy="382.3" r="2.75" fill="#C4C4C4" fill-opacity="0.62" stroke="#B0B0B0" stroke-opacity="0.5" stroke-width="0.4"/>
<circle cx="528.2" cy="384.5" r="2.75" fill="#C4C4C4" fill-opacity="0.62" stroke="#B0B0B0" stroke-opacity="0.5" stroke-width="0.4"/>
<circle cx="519.2" cy="387.7" r="2.75" fill="#C4C4C4" fill-opacity="0.62" stroke="#B0B0B0" stroke-opacity="0.5" stroke-width="0.4"/>
<circle cx="525" cy="387.4" r="2.75" fill="#C4C4C4" fill-opacity="0.62" stroke="#B0B0B0" stroke-opacity="0.5" stroke-width="0.4"/>
<circle cx="532" cy="388.5" r="2.75" fill="#C4C4C4" fill-opacity="0.62" stroke="#B0B0B0" stroke-opacity="0.5" stroke-width="0.4"/>
<circle cx="522.8" cy="391.8" r="2.75" fill="#C4C4C4" fill-opacity="0.62" stroke="#B0B0B0" stroke-opacity="0.5" stroke-width="0.4"/>
<circle cx="526.5" cy="393.2" r="2.75" fill="#C4C4C4" fill-opacity="0.62" stroke="#B0B0B0" stroke-opacity="0.5" stroke-width="0.4"/>
<circle cx="538.2" cy="391" r="2.75" fill="#C4C4C4" fill-opacity="0.62" stroke="#B0B0B0" stroke-opacity="0.5" stroke-width="0.4"/>
<circle cx="539.3" cy="395" r="2.75" fill="#C4C4C4" fill-opacity="0.62" stroke="#B0B0B0" stroke-opacity="0.5" stroke-width="0.4"/>
<circle cx="522.8" cy="396.1" r="2.75" fill="#C4C4C4" fill-opacity="0.62" stroke="#B0B0B0" stroke-opacity="0.5" stroke-width="0.4"/>
<circle cx="525" cy="397.6" r="2.75" fill="#C4C4C4" fill-opacity="0.62" stroke="#B0B0B0" stroke-opacity="0.5" stroke-width="0.4"/>
<circle cx="532" cy="397.9" r="2.75" fill="#C4C4C4" fill-opacity="0.62" stroke="#B0B0B0" stroke-opacity="0.5" stroke-width="0.4"/>
<circle cx="524.3" cy="401.2" r="2.75" fill="#C4C4C4" fill-opacity="0.62" stroke="#B0B0B0" stroke-opacity="0.5" stroke-width="0.4"/>
<circle cx="525" cy="403.4" r="2.75" fill="#C4C4C4" fill-opacity="0.62" stroke="#B0B0B0" stroke-opacity="0.5" stroke-width="0.4"/>
<circle cx="525" cy="406.4" r="2.75" fill="#C4C4C4" fill-opacity="0.62" stroke="#B0B0B0" stroke-opacity="0.5" stroke-width="0.4"/>
<circle cx="570.3" cy="382.6" r="2.75" fill="#C4C4C4" fill-opacity="0.62" stroke="#B0B0B0" stroke-opacity="0.5" stroke-width="0.4"/>
<circle cx="594.4" cy="349.8" r="2.75" fill="#C4C4C4" fill-opacity="0.62" stroke="#B0B0B0" stroke-opacity="0.5" stroke-width="0.4"/>
<circle cx="520.5" cy="360" r="2.75" fill="#C4C4C4" fill-opacity="0.62" stroke="#B0B0B0" stroke-opacity="0.5" stroke-width="0.4"/>
<circle cx="523" cy="373" r="2.75" fill="#C4C4C4" fill-opacity="0.62" stroke="#B0B0B0" stroke-opacity="0.5" stroke-width="0.4"/>
<circle cx="524" cy="384" r="2.75" fill="#C4C4C4" fill-opacity="0.62" stroke="#B0B0B0" stroke-opacity="0.5" stroke-width="0.4"/>
<circle cx="521" cy="394" r="2.75" fill="#C4C4C4" fill-opacity="0.62" stroke="#B0B0B0" stroke-opacity="0.5" stroke-width="0.4"/>
<circle cx="527" cy="399" r="2.75" fill="#C4C4C4" fill-opacity="0.62" stroke="#B0B0B0" stroke-opacity="0.5" stroke-width="0.4"/>
<circle cx="523.5" cy="405" r="2.75" fill="#C4C4C4" fill-opacity="0.62" stroke="#B0B0B0" stroke-opacity="0.5" stroke-width="0.4"/>
<circle cx="517.8" cy="343.8" r="2.75" fill="#C4C4C4" fill-opacity="0.62" stroke="#B0B0B0" stroke-opacity="0.5" stroke-width="0.4"/>
<circle cx="517.8" cy="343.8" r="2.75" fill="#C4C4C4" fill-opacity="0.62" stroke="#B0B0B0" stroke-opacity="0.5" stroke-width="0.4"/>
<circle cx="516.3" cy="352.3" r="2.75" fill="#C4C4C4" fill-opacity="0.62" stroke="#B0B0B0" stroke-opacity="0.5" stroke-width="0.4"/>
<circle cx="518.7" cy="351.4" r="2.75" fill="#C4C4C4" fill-opacity="0.62" stroke="#B0B0B0" stroke-opacity="0.5" stroke-width="0.4"/>
<circle cx="515.4" cy="354.2" r="2.75" fill="#C4C4C4" fill-opacity="0.62" stroke="#B0B0B0" stroke-opacity="0.5" stroke-width="0.4"/>
<circle cx="516.8" cy="361.8" r="2.75" fill="#C4C4C4" fill-opacity="0.62" stroke="#B0B0B0" stroke-opacity="0.5" stroke-width="0.4"/>
<circle cx="518.7" cy="362.8" r="2.75" fill="#C4C4C4" fill-opacity="0.62" stroke="#B0B0B0" stroke-opacity="0.5" stroke-width="0.4"/>
<circle cx="520.1" cy="369.4" r="2.75" fill="#C4C4C4" fill-opacity="0.62" stroke="#B0B0B0" stroke-opacity="0.5" stroke-width="0.4"/>
<circle cx="519.7" cy="371.3" r="2.75" fill="#C4C4C4" fill-opacity="0.62" stroke="#B0B0B0" stroke-opacity="0.5" stroke-width="0.4"/>
<circle cx="527.7" cy="366.6" r="2.75" fill="#C4C4C4" fill-opacity="0.62" stroke="#B0B0B0" stroke-opacity="0.5" stroke-width="0.4"/>
<circle cx="527.7" cy="369.4" r="2.75" fill="#C4C4C4" fill-opacity="0.62" stroke="#B0B0B0" stroke-opacity="0.5" stroke-width="0.4"/>
<circle cx="519.7" cy="378" r="2.75" fill="#C4C4C4" fill-opacity="0.62" stroke="#B0B0B0" stroke-opacity="0.5" stroke-width="0.4"/>
<circle cx="521.6" cy="379.8" r="2.75" fill="#C4C4C4" fill-opacity="0.62" stroke="#B0B0B0" stroke-opacity="0.5" stroke-width="0.4"/>
<circle cx="527.3" cy="378.9" r="2.75" fill="#C4C4C4" fill-opacity="0.62" stroke="#B0B0B0" stroke-opacity="0.5" stroke-width="0.4"/>
<circle cx="527.7" cy="381.7" r="2.75" fill="#C4C4C4" fill-opacity="0.62" stroke="#B0B0B0" stroke-opacity="0.5" stroke-width="0.4"/>
<circle cx="528.2" cy="384.6" r="2.75" fill="#C4C4C4" fill-opacity="0.62" stroke="#B0B0B0" stroke-opacity="0.5" stroke-width="0.4"/>
<circle cx="523.5" cy="387.4" r="2.75" fill="#C4C4C4" fill-opacity="0.62" stroke="#B0B0B0" stroke-opacity="0.5" stroke-width="0.4"/>
<circle cx="522.5" cy="391.2" r="2.75" fill="#C4C4C4" fill-opacity="0.62" stroke="#B0B0B0" stroke-opacity="0.5" stroke-width="0.4"/>
<circle cx="523.5" cy="394.1" r="2.75" fill="#C4C4C4" fill-opacity="0.62" stroke="#B0B0B0" stroke-opacity="0.5" stroke-width="0.4"/>
<circle cx="523.9" cy="396.9" r="2.75" fill="#C4C4C4" fill-opacity="0.62" stroke="#B0B0B0" stroke-opacity="0.5" stroke-width="0.4"/>
<circle cx="523.5" cy="399.8" r="2.75" fill="#C4C4C4" fill-opacity="0.62" stroke="#B0B0B0" stroke-opacity="0.5" stroke-width="0.4"/>
<circle cx="524.4" cy="402.6" r="2.75" fill="#C4C4C4" fill-opacity="0.62" stroke="#B0B0B0" stroke-opacity="0.5" stroke-width="0.4"/>
<circle cx="524.9" cy="405.5" r="2.75" fill="#C4C4C4" fill-opacity="0.62" stroke="#B0B0B0" stroke-opacity="0.5" stroke-width="0.4"/>
<circle cx="527.3" cy="385.5" r="2.75" fill="#C4C4C4" fill-opacity="0.62" stroke="#B0B0B0" stroke-opacity="0.5" stroke-width="0.4"/>
<circle cx="527.3" cy="389.3" r="2.75" fill="#C4C4C4" fill-opacity="0.62" stroke="#B0B0B0" stroke-opacity="0.5" stroke-width="0.4"/>
<circle cx="530.1" cy="396.9" r="2.75" fill="#C4C4C4" fill-opacity="0.62" stroke="#B0B0B0" stroke-opacity="0.5" stroke-width="0.4"/>
<circle cx="526.8" cy="400.7" r="2.75" fill="#C4C4C4" fill-opacity="0.62" stroke="#B0B0B0" stroke-opacity="0.5" stroke-width="0.4"/>
<circle cx="523.9" cy="396.9" r="2.75" fill="#C4C4C4" fill-opacity="0.62" stroke="#B0B0B0" stroke-opacity="0.5" stroke-width="0.4"/>
<circle cx="524.4" cy="402.6" r="2.75" fill="#C4C4C4" fill-opacity="0.62" stroke="#B0B0B0" stroke-opacity="0.5" stroke-width="0.4"/>
<circle cx="522.5" cy="391.2" r="2.75" fill="#C4C4C4" fill-opacity="0.62" stroke="#B0B0B0" stroke-opacity="0.5" stroke-width="0.4"/>
<circle cx="610.3" cy="123.7" r="2.65" fill="#7474F6" stroke="#4A4AEE" stroke-width="0.7"/>
<circle cx="617.3" cy="160.6" r="2.65" fill="#7474F6" stroke="#4A4AEE" stroke-width="0.7"/>
<circle cx="638.8" cy="156.4" r="2.65" fill="#7474F6" stroke="#4A4AEE" stroke-width="0.7"/>
<circle cx="647.2" cy="164.8" r="2.65" fill="#7474F6" stroke="#4A4AEE" stroke-width="0.7"/>
<circle cx="670.5" cy="167.6" r="2.65" fill="#7474F6" stroke="#4A4AEE" stroke-width="0.7"/>
<circle cx="637.8" cy="177.5" r="2.65" fill="#7474F6" stroke="#4A4AEE" stroke-width="0.7"/>
<circle cx="620.1" cy="200.8" r="2.65" fill="#7474F6" stroke="#4A4AEE" stroke-width="0.7"/>
<circle cx="582.7" cy="214.4" r="2.65" fill="#7474F6" stroke="#4A4AEE" stroke-width="0.7"/>
<circle cx="605.6" cy="215.8" r="2.65" fill="#7474F6" stroke="#4A4AEE" stroke-width="0.7"/>
<circle cx="572" cy="222.3" r="2.65" fill="#7474F6" stroke="#4A4AEE" stroke-width="0.7"/>
<circle cx="635.5" cy="220.4" r="2.65" fill="#7474F6" stroke="#4A4AEE" stroke-width="0.7"/>
<circle cx="586.4" cy="234.5" r="2.65" fill="#7474F6" stroke="#4A4AEE" stroke-width="0.7"/>
<circle cx="592.5" cy="236.8" r="2.65" fill="#7474F6" stroke="#4A4AEE" stroke-width="0.7"/>
<circle cx="595.8" cy="239.1" r="2.65" fill="#7474F6" stroke="#4A4AEE" stroke-width="0.7"/>
<circle cx="603.3" cy="236.8" r="2.65" fill="#7474F6" stroke="#4A4AEE" stroke-width="0.7"/>
<circle cx="666.8" cy="245.7" r="2.65" fill="#7474F6" stroke="#4A4AEE" stroke-width="0.7"/>
<circle cx="612.6" cy="287.2" r="2.65" fill="#7474F6" stroke="#4A4AEE" stroke-width="0.7"/>
<circle cx="546.7" cy="302.7" r="2.65" fill="#7474F6" stroke="#4A4AEE" stroke-width="0.7"/>
<circle cx="556.1" cy="324.1" r="2.65" fill="#7474F6" stroke="#4A4AEE" stroke-width="0.7"/>
<circle cx="580.4" cy="323.2" r="2.65" fill="#7474F6" stroke="#4A4AEE" stroke-width="0.7"/>
<path d="M521.3,128.0 C521.2,140.0 520.8,178.0 520.5,200.0 C520.2,222.0 519.8,246.5 519.5,260.0 C519.2,273.5 519.1,275.2 519.0,281.0 C518.9,286.8 518.8,290.3 518.6,295.0 C518.4,299.7 518.2,304.9 518.0,309.2 C517.8,313.5 517.5,317.7 517.2,320.9 C516.9,324.1 516.8,325.8 516.3,328.2 C515.8,330.6 515.3,333.1 514.5,335.3 C513.7,337.5 512.9,339.3 511.4,341.1 C509.9,342.9 508.0,344.7 505.6,346.3 C503.2,347.9 500.2,349.4 496.8,350.6 C493.4,351.8 489.6,352.8 485.1,353.6 C480.6,354.5 475.7,355.2 469.8,355.7 C463.9,356.2 458.1,356.5 449.8,356.8 C441.5,357.1 431.6,357.4 419.8,357.6 C408.0,357.8 385.6,358.1 378.8,358.2" fill="none" stroke="#111" stroke-width="1.4"/>
<path d="M528.5,128.0 C528.6,140.0 529.0,178.0 529.3,200.0 C529.6,222.0 530.0,246.5 530.3,260.0 C530.5,273.5 530.6,275.2 530.8,281.0 C530.9,286.8 531.0,290.3 531.2,295.0 C531.4,299.7 531.6,304.9 531.8,309.2 C532.0,313.5 532.3,317.7 532.6,320.9 C532.9,324.1 533.0,325.8 533.5,328.2 C534.0,330.6 534.5,333.1 535.3,335.3 C536.1,337.5 536.9,339.3 538.4,341.1 C539.9,342.9 541.8,344.7 544.2,346.3 C546.6,347.9 549.6,349.4 553.0,350.6 C556.4,351.8 560.2,352.8 564.7,353.6 C569.2,354.5 574.1,355.2 580.0,355.7 C585.9,356.2 591.7,356.5 600.0,356.8 C608.3,357.1 618.2,357.4 630.0,357.6 C641.8,357.8 664.2,358.1 671.0,358.2" fill="none" stroke="#111" stroke-width="1.4"/>
<line x1="365" y1="78" x2="365" y2="423.6" stroke="#000" stroke-width="2.6"/>
<line x1="363.7" y1="422.4" x2="685" y2="422.4" stroke="#000" stroke-width="2.6"/>
<line x1="361.5" y1="406.6" x2="364" y2="406.6" stroke="#333" stroke-width="1"/>
<text x="359.8" y="412.2" font-size="16" font-weight="bold" fill="#4D4D4D" text-anchor="end" >0</text>
<line x1="361.5" y1="344.0" x2="364" y2="344.0" stroke="#333" stroke-width="1"/>
<text x="359.8" y="349.6" font-size="16" font-weight="bold" fill="#4D4D4D" text-anchor="end" >1</text>
<line x1="361.5" y1="281.4" x2="364" y2="281.4" stroke="#333" stroke-width="1"/>
<text x="359.8" y="287.0" font-size="16" font-weight="bold" fill="#4D4D4D" text-anchor="end" >2</text>
<line x1="361.5" y1="218.8" x2="364" y2="218.8" stroke="#333" stroke-width="1"/>
<text x="359.8" y="224.4" font-size="16" font-weight="bold" fill="#4D4D4D" text-anchor="end" >3</text>
<line x1="361.5" y1="156.2" x2="364" y2="156.2" stroke="#333" stroke-width="1"/>
<text x="359.8" y="161.8" font-size="16" font-weight="bold" fill="#4D4D4D" text-anchor="end" >4</text>
<line x1="361.5" y1="93.6" x2="364" y2="93.6" stroke="#333" stroke-width="1"/>
<text x="359.8" y="99.2" font-size="16" font-weight="bold" fill="#4D4D4D" text-anchor="end" >5</text>
<line x1="439.3" y1="423.5" x2="439.3" y2="426" stroke="#333" stroke-width="1"/>
<text x="439.3" y="440.2" font-size="16" font-weight="bold" fill="#4D4D4D" text-anchor="middle" >-4</text>
<line x1="524.7" y1="423.5" x2="524.7" y2="426" stroke="#333" stroke-width="1"/>
<text x="524.7" y="440.2" font-size="16" font-weight="bold" fill="#4D4D4D" text-anchor="middle" >0</text>
<line x1="610.1" y1="423.5" x2="610.1" y2="426" stroke="#333" stroke-width="1"/>
<text x="610.1" y="440.2" font-size="16" font-weight="bold" fill="#4D4D4D" text-anchor="middle" >4</text>
<text x="449.8" y="468.0" font-size="17.8" font-weight="bold" fill="#000" textLength="147.9" lengthAdjust="spacingAndGlyphs" >log2(HOTAIR/Ctrl)</text>
<text x="0" y="0" font-size="17.8" font-weight="bold" transform="translate(343.9,346.8) rotate(-90)" textLength="166.7" lengthAdjust="spacingAndGlyphs">-log10(adj.p-value)</text>
<rect x="368.4" y="78.2" width="75.6" height="19.2" fill="#fff" stroke="#333" stroke-width="1"/>
<circle cx="378.6" cy="87.6" r="4.1" fill="#7474F6" stroke="#4A4AEE" stroke-width="0.8"/>
<text x="388.9" y="93.3" font-size="17" font-weight="bold" fill="#000" textLength="49.0" lengthAdjust="spacingAndGlyphs" >MRPL</text>
<text x="0" y="0" transform="translate(13.6,537.2) scale(1.05,1)" font-size="27.5" font-weight="bold" stroke="#000" stroke-width="1.2" stroke-linejoin="round">C</text>
<text x="46.0" y="533.9" font-size="16.5" font-weight="normal" fill="#000" textLength="56.5" lengthAdjust="spacingAndGlyphs" stroke="#000" stroke-width="0.5">InterPro</text>
<rect x="200.2" y="556.7" width="119.9" height="19.1" fill="#D6D6D6" stroke="#000" stroke-width="1.5"/>
<line x1="197.0" y1="566.2" x2="200.2" y2="566.2" stroke="#222" stroke-width="1"/>
<text x="196.2" y="569.1" font-size="8.5" font-weight="bold" fill="#1a1a1a" text-anchor="end" textLength="195.9" lengthAdjust="spacingAndGlyphs" stroke="#1a1a1a" stroke-width="0.15">IPR017347:Heterogeneous nuclear ribonucleoprotein C, Raly</text>
<text x="324.7" y="568.9" font-size="8.8" font-weight="bold" fill="#1a1a1a" textLength="8.7" lengthAdjust="spacingAndGlyphs" stroke="#1a1a1a" stroke-width="0.2">5/7</text>
<rect x="200.2" y="588.0" width="93.4" height="18.7" fill="#D6D6D6" stroke="#000" stroke-width="1.5"/>
<line x1="197.0" y1="597.3" x2="200.2" y2="597.3" stroke="#222" stroke-width="1"/>
<text x="196.2" y="600.2" font-size="8.5" font-weight="bold" fill="#1a1a1a" text-anchor="end" textLength="151.5" lengthAdjust="spacingAndGlyphs" stroke="#1a1a1a" stroke-width="0.15">IPR012677:Nucleotide-binding, alpha-beta plait</text>
<text x="297.9" y="600.2" font-size="8.8" font-weight="bold" fill="#1a1a1a" textLength="16.6" lengthAdjust="spacingAndGlyphs" stroke="#1a1a1a" stroke-width="0.2">9/264</text>
<rect x="200.2" y="618.7" width="82.6" height="18.8" fill="#D6D6D6" stroke="#000" stroke-width="1.5"/>
<line x1="197.0" y1="628.1" x2="200.2" y2="628.1" stroke="#222" stroke-width="1"/>
<text x="196.2" y="631.0" font-size="8.5" font-weight="bold" fill="#1a1a1a" text-anchor="end" textLength="135.4" lengthAdjust="spacingAndGlyphs" stroke="#1a1a1a" stroke-width="0.15">IPR000504:RNA recognition motif domain</text>
<text x="288.0" y="632.0" font-size="8.8" font-weight="bold" fill="#1a1a1a" textLength="16.5" lengthAdjust="spacingAndGlyphs" stroke="#1a1a1a" stroke-width="0.2">8/226</text>
<line x1="221.2" y1="544.7" x2="221.2" y2="647.9" stroke="#222" stroke-width="1.2" stroke-dasharray="2.9,2.1"/>
<line x1="200.2" y1="544.7" x2="200.2" y2="648.6" stroke="#222" stroke-width="1.4"/>
<line x1="199.5" y1="647.9" x2="330.6" y2="647.9" stroke="#222" stroke-width="1.4"/>
<line x1="200.2" y1="647.9" x2="200.2" y2="652.2" stroke="#222" stroke-width="1.2"/>
<text x="200.2" y="662.4" font-size="8" font-weight="bold" fill="#1a1a1a" text-anchor="middle" >0</text>
<line x1="232.6" y1="647.9" x2="232.6" y2="652.2" stroke="#222" stroke-width="1.2"/>
<text x="232.6" y="662.4" font-size="8" font-weight="bold" fill="#1a1a1a" text-anchor="middle" >2</text>
<line x1="265.1" y1="647.9" x2="265.1" y2="652.2" stroke="#222" stroke-width="1.2"/>
<text x="265.1" y="662.4" font-size="8" font-weight="bold" fill="#1a1a1a" text-anchor="middle" >4</text>
<line x1="297.6" y1="647.9" x2="297.6" y2="652.2" stroke="#222" stroke-width="1.2"/>
<text x="297.6" y="662.4" font-size="8" font-weight="bold" fill="#1a1a1a" text-anchor="middle" >6</text>
<line x1="330.0" y1="647.9" x2="330.0" y2="652.2" stroke="#222" stroke-width="1.2"/>
<text x="330.0" y="662.4" font-size="8" font-weight="bold" fill="#1a1a1a" text-anchor="middle" >8</text>
<text x="242.8" y="674.3" font-size="8" font-weight="bold" fill="#1a1a1a" textLength="45.4" lengthAdjust="spacingAndGlyphs">-log<tspan font-size="5.5" dy="1">10</tspan><tspan dy="-1">(p-value)</tspan></text>
<text x="0" y="0" transform="translate(360.0,534.9) scale(1.3,1)" font-size="25" font-weight="bold" stroke="#000" stroke-width="1.2" stroke-linejoin="round">D</text>
<text x="397.4" y="532.3" font-size="17" font-weight="normal" fill="#000" textLength="164.7" lengthAdjust="spacingAndGlyphs" stroke="#000" stroke-width="0.5">GO: Molecular Function</text>
<rect x="520.7" y="554.7" width="129.9" height="13.5" fill="#D6D6D6" stroke="#000" stroke-width="1.5"/>
<line x1="517.5" y1="561.5" x2="520.7" y2="561.5" stroke="#222" stroke-width="1"/>
<text x="516.3" y="564.4" font-size="8.5" font-weight="bold" fill="#1a1a1a" text-anchor="end" textLength="163.9" lengthAdjust="spacingAndGlyphs" stroke="#1a1a1a" stroke-width="0.15">GO:0003735~structural constituent of ribosome</text>
<text x="656.9" y="564.2" font-size="8.8" font-weight="bold" fill="#1a1a1a" textLength="21.0" lengthAdjust="spacingAndGlyphs" stroke="#1a1a1a" stroke-width="0.2">19/222</text>
<rect x="520.7" y="578.5" width="129.1" height="13.7" fill="#D6D6D6" stroke="#000" stroke-width="1.5"/>
<line x1="517.5" y1="585.3" x2="520.7" y2="585.3" stroke="#222" stroke-width="1"/>
<text x="516.3" y="588.2" font-size="8.5" font-weight="bold" fill="#1a1a1a" text-anchor="end" textLength="116.7" lengthAdjust="spacingAndGlyphs" stroke="#1a1a1a" stroke-width="0.15">GO:0044822~poly(A) RNA binding</text>
<text x="656.9" y="588.7" font-size="8.8" font-weight="bold" fill="#1a1a1a" textLength="23.8" lengthAdjust="spacingAndGlyphs" stroke="#1a1a1a" stroke-width="0.2">28/1129</text>
<rect x="520.7" y="602.5" width="74.2" height="12.9" fill="#D6D6D6" stroke="#000" stroke-width="1.5"/>
<line x1="517.5" y1="609.0" x2="520.7" y2="609.0" stroke="#222" stroke-width="1"/>
<text x="516.3" y="611.9" font-size="8.5" font-weight="bold" fill="#1a1a1a" text-anchor="end" textLength="89.3" lengthAdjust="spacingAndGlyphs" stroke="#1a1a1a" stroke-width="0.15">GO:0003723~RNA binding</text>
<text x="599.4" y="612.7" font-size="8.8" font-weight="bold" fill="#1a1a1a" textLength="20.5" lengthAdjust="spacingAndGlyphs" stroke="#1a1a1a" stroke-width="0.2">17/547</text>
<rect x="520.7" y="626.3" width="28.2" height="13.4" fill="#D6D6D6" stroke="#000" stroke-width="1.5"/>
<line x1="517.5" y1="633.0" x2="520.7" y2="633.0" stroke="#222" stroke-width="1"/>
<text x="516.3" y="635.9" font-size="8.5" font-weight="bold" fill="#1a1a1a" text-anchor="end" textLength="110.3" lengthAdjust="spacingAndGlyphs" stroke="#1a1a1a" stroke-width="0.15">GO:0000166~nucleotide binding</text>
<text x="553.4" y="636.5" font-size="8.8" font-weight="bold" fill="#1a1a1a" textLength="17.4" lengthAdjust="spacingAndGlyphs" stroke="#1a1a1a" stroke-width="0.2">9/348</text>
<line x1="528.4" y1="545.1" x2="528.4" y2="648.3" stroke="#222" stroke-width="1.2" stroke-dasharray="2.9,2.1"/>
<line x1="520.7" y1="545.1" x2="520.7" y2="649.0" stroke="#222" stroke-width="1.4"/>
<line x1="520.0" y1="648.3" x2="669.0" y2="648.3" stroke="#222" stroke-width="1.4"/>
<line x1="520.7" y1="648.3" x2="520.7" y2="652.6" stroke="#222" stroke-width="1.2"/>
<text x="520.7" y="662.1" font-size="8" font-weight="bold" fill="#1a1a1a" text-anchor="middle" >0</text>
<line x1="550.2" y1="648.3" x2="550.2" y2="652.6" stroke="#222" stroke-width="1.2"/>
<text x="550.2" y="662.1" font-size="8" font-weight="bold" fill="#1a1a1a" text-anchor="middle" >5</text>
<line x1="579.8" y1="648.3" x2="579.8" y2="652.6" stroke="#222" stroke-width="1.2"/>
<text x="579.8" y="662.1" font-size="8" font-weight="bold" fill="#1a1a1a" text-anchor="middle" >10</text>
<line x1="609.3" y1="648.3" x2="609.3" y2="652.6" stroke="#222" stroke-width="1.2"/>
<text x="609.3" y="662.1" font-size="8" font-weight="bold" fill="#1a1a1a" text-anchor="middle" >15</text>
<line x1="638.9" y1="648.3" x2="638.9" y2="652.6" stroke="#222" stroke-width="1.2"/>
<text x="638.9" y="662.1" font-size="8" font-weight="bold" fill="#1a1a1a" text-anchor="middle" >20</text>
<line x1="668.4" y1="648.3" x2="668.4" y2="652.6" stroke="#222" stroke-width="1.2"/>
<text x="668.4" y="662.1" font-size="8" font-weight="bold" fill="#1a1a1a" text-anchor="middle" >25</text>
<text x="561.1" y="675.0" font-size="8" font-weight="bold" fill="#1a1a1a" textLength="66.9" lengthAdjust="spacingAndGlyphs">-log<tspan font-size="5.5" dy="1">10</tspan><tspan dy="-1">(adj. p-value)</tspan></text>
<text x="0" y="0" transform="translate(14.0,712.8) scale(1.3,1)" font-size="26" font-weight="bold" stroke="#000" stroke-width="1.2" stroke-linejoin="round">E</text>
<text x="44.8" y="709.8" font-size="18" font-weight="normal" fill="#000" textLength="189.2" lengthAdjust="spacingAndGlyphs" stroke="#000" stroke-width="0.5">GO: Cellular Compartment</text>
<rect x="199.0" y="724.8" width="106.0" height="13.0" fill="#D6D6D6" stroke="#000" stroke-width="1.5"/>
<line x1="195.8" y1="731.3" x2="199.0" y2="731.3" stroke="#222" stroke-width="1"/>
<text x="194.4" y="734.2" font-size="8.5" font-weight="bold" fill="#1a1a1a" text-anchor="end" textLength="173.4" lengthAdjust="spacingAndGlyphs" stroke="#1a1a1a" stroke-width="0.15">GO:0005762~mitochondrial large ribosomal subunit</text>
<text x="310.0" y="734.5" font-size="8.8" font-weight="bold" fill="#1a1a1a" textLength="16.9" lengthAdjust="spacingAndGlyphs" stroke="#1a1a1a" stroke-width="0.2">17/48</text>
<rect x="199.0" y="748.9" width="66.5" height="12.5" fill="#D6D6D6" stroke="#000" stroke-width="1.5"/>
<line x1="195.8" y1="755.2" x2="199.0" y2="755.2" stroke="#222" stroke-width="1"/>
<text x="194.4" y="758.1" font-size="8.5" font-weight="bold" fill="#1a1a1a" text-anchor="end" textLength="147.8" lengthAdjust="spacingAndGlyphs" stroke="#1a1a1a" stroke-width="0.15">GO:0005743~mitochondrial inner membrane</text>
<text x="270.8" y="758.6" font-size="8.8" font-weight="bold" fill="#1a1a1a" textLength="20.5" lengthAdjust="spacingAndGlyphs" stroke="#1a1a1a" stroke-width="0.2">20/441</text>
<rect x="199.0" y="772.2" width="61.5" height="13.1" fill="#D6D6D6" stroke="#000" stroke-width="1.5"/>
<line x1="195.8" y1="778.8" x2="199.0" y2="778.8" stroke="#222" stroke-width="1"/>
<text x="194.4" y="781.6" font-size="8.5" font-weight="bold" fill="#1a1a1a" text-anchor="end" textLength="76.2" lengthAdjust="spacingAndGlyphs" stroke="#1a1a1a" stroke-width="0.15">GO:0005840~ribosome</text>
<text x="265.5" y="782.2" font-size="8.8" font-weight="bold" fill="#1a1a1a" textLength="20.0" lengthAdjust="spacingAndGlyphs" stroke="#1a1a1a" stroke-width="0.2">15/166</text>
<rect x="199.0" y="796.3" width="40.0" height="13.1" fill="#D6D6D6" stroke="#000" stroke-width="1.5"/>
<line x1="195.8" y1="802.9" x2="199.0" y2="802.9" stroke="#222" stroke-width="1"/>
<text x="194.4" y="805.8" font-size="8.5" font-weight="bold" fill="#1a1a1a" text-anchor="end" textLength="176.9" lengthAdjust="spacingAndGlyphs" stroke="#1a1a1a" stroke-width="0.15">GO:0030529~intracellular ribonucleoprotein complex</text>
<text x="243.3" y="806.8" font-size="8.8" font-weight="bold" fill="#1a1a1a" textLength="19.8" lengthAdjust="spacingAndGlyphs" stroke="#1a1a1a" stroke-width="0.2">11/136</text>
<line x1="203.4" y1="714.9" x2="203.4" y2="818.0" stroke="#222" stroke-width="1.2" stroke-dasharray="2.9,2.1"/>
<line x1="199.0" y1="714.9" x2="199.0" y2="818.7" stroke="#222" stroke-width="1.4"/>
<line x1="198.3" y1="818.0" x2="339.1" y2="818.0" stroke="#222" stroke-width="1.4"/>
<line x1="199.0" y1="818.0" x2="199.0" y2="822.3" stroke="#222" stroke-width="1.2"/>
<text x="199.0" y="832.2" font-size="8" font-weight="bold" fill="#1a1a1a" text-anchor="middle" >0</text>
<line x1="233.9" y1="818.0" x2="233.9" y2="822.3" stroke="#222" stroke-width="1.2"/>
<text x="233.9" y="832.2" font-size="8" font-weight="bold" fill="#1a1a1a" text-anchor="middle" >10</text>
<line x1="268.8" y1="818.0" x2="268.8" y2="822.3" stroke="#222" stroke-width="1.2"/>
<text x="268.8" y="832.2" font-size="8" font-weight="bold" fill="#1a1a1a" text-anchor="middle" >20</text>
<line x1="303.6" y1="818.0" x2="303.6" y2="822.3" stroke="#222" stroke-width="1.2"/>
<text x="303.6" y="832.2" font-size="8" font-weight="bold" fill="#1a1a1a" text-anchor="middle" >30</text>
<line x1="338.5" y1="818.0" x2="338.5" y2="822.3" stroke="#222" stroke-width="1.2"/>
<text x="338.5" y="832.2" font-size="8" font-weight="bold" fill="#1a1a1a" text-anchor="middle" >40</text>
<text x="237.1" y="843.8" font-size="8" font-weight="bold" fill="#1a1a1a" textLength="63.3" lengthAdjust="spacingAndGlyphs">-log<tspan font-size="5.5" dy="1">10</tspan><tspan dy="-1">(adj. p-value)</tspan></text>
<text x="0" y="0" transform="translate(359.8,715.7) scale(1.45,1)" font-size="25.5" font-weight="bold" stroke="#000" stroke-width="1.2" stroke-linejoin="round">F</text>
<text x="402.0" y="712.2" font-size="18" font-weight="normal" fill="#000" textLength="158.0" lengthAdjust="spacingAndGlyphs" stroke="#000" stroke-width="0.5">GO: Biological Process</text>
<rect x="522.3" y="725.0" width="127.5" height="13.1" fill="#D6D6D6" stroke="#000" stroke-width="1.5"/>
<line x1="519.1" y1="731.5" x2="522.3" y2="731.5" stroke="#222" stroke-width="1"/>
<text x="517.8" y="734.4" font-size="8.5" font-weight="bold" fill="#1a1a1a" text-anchor="end" textLength="172.5" lengthAdjust="spacingAndGlyphs" stroke="#1a1a1a" stroke-width="0.15">GO:0070125~mitochondrial translational elongation</text>
<text x="655.6" y="734.4" font-size="8.8" font-weight="bold" fill="#1a1a1a" textLength="17.1" lengthAdjust="spacingAndGlyphs" stroke="#1a1a1a" stroke-width="0.2">21/85</text>
<rect x="522.3" y="748.5" width="119.1" height="12.9" fill="#D6D6D6" stroke="#000" stroke-width="1.5"/>
<line x1="519.1" y1="755.0" x2="522.3" y2="755.0" stroke="#222" stroke-width="1"/>
<text x="517.8" y="757.9" font-size="8.5" font-weight="bold" fill="#1a1a1a" text-anchor="end" textLength="176.0" lengthAdjust="spacingAndGlyphs" stroke="#1a1a1a" stroke-width="0.15">GO:0070126~mitochondrial translational termination</text>
<text x="646.7" y="758.1" font-size="8.8" font-weight="bold" fill="#1a1a1a" textLength="17.4" lengthAdjust="spacingAndGlyphs" stroke="#1a1a1a" stroke-width="0.2">20/86</text>
<rect x="522.3" y="772.2" width="79.5" height="13.2" fill="#D6D6D6" stroke="#000" stroke-width="1.5"/>
<line x1="519.1" y1="778.8" x2="522.3" y2="778.8" stroke="#222" stroke-width="1"/>
<text x="517.8" y="781.7" font-size="8.5" font-weight="bold" fill="#1a1a1a" text-anchor="end" textLength="80.9" lengthAdjust="spacingAndGlyphs" stroke="#1a1a1a" stroke-width="0.15">GO:0006412~translation</text>
<text x="607.6" y="782.4" font-size="8.8" font-weight="bold" fill="#1a1a1a" textLength="20.7" lengthAdjust="spacingAndGlyphs" stroke="#1a1a1a" stroke-width="0.2">19/253</text>
<rect x="522.3" y="796.0" width="8.5" height="13.7" fill="#D6D6D6" stroke="#000" stroke-width="1.5"/>
<line x1="519.1" y1="802.8" x2="522.3" y2="802.8" stroke="#222" stroke-width="1"/>
<text x="517.8" y="805.7" font-size="8.5" font-weight="bold" fill="#1a1a1a" text-anchor="end" textLength="100.4" lengthAdjust="spacingAndGlyphs" stroke="#1a1a1a" stroke-width="0.15">GO:0010467~gene expression</text>
<text x="536.3" y="806.7" font-size="8.8" font-weight="bold" fill="#1a1a1a" textLength="12.8" lengthAdjust="spacingAndGlyphs" stroke="#1a1a1a" stroke-width="0.2">4/48</text>
<line x1="527.1" y1="715.3" x2="527.1" y2="818.0" stroke="#222" stroke-width="1.2" stroke-dasharray="2.9,2.1"/>
<line x1="522.3" y1="715.3" x2="522.3" y2="818.7" stroke="#222" stroke-width="1.4"/>
<line x1="521.6" y1="818.0" x2="663.4" y2="818.0" stroke="#222" stroke-width="1.4"/>
<line x1="522.3" y1="818.0" x2="522.3" y2="822.3" stroke="#222" stroke-width="1.2"/>
<text x="522.3" y="831.9" font-size="8" font-weight="bold" fill="#1a1a1a" text-anchor="middle" >0</text>
<line x1="557.4" y1="818.0" x2="557.4" y2="822.3" stroke="#222" stroke-width="1.2"/>
<text x="557.4" y="831.9" font-size="8" font-weight="bold" fill="#1a1a1a" text-anchor="middle" >10</text>
<line x1="592.5" y1="818.0" x2="592.5" y2="822.3" stroke="#222" stroke-width="1.2"/>
<text x="592.5" y="831.9" font-size="8" font-weight="bold" fill="#1a1a1a" text-anchor="middle" >20</text>
<line x1="627.7" y1="818.0" x2="627.7" y2="822.3" stroke="#222" stroke-width="1.2"/>
<text x="627.7" y="831.9" font-size="8" font-weight="bold" fill="#1a1a1a" text-anchor="middle" >30</text>
<line x1="662.8" y1="818.0" x2="662.8" y2="822.3" stroke="#222" stroke-width="1.2"/>
<text x="662.8" y="831.9" font-size="8" font-weight="bold" fill="#1a1a1a" text-anchor="middle" >40</text>
<text x="561.1" y="843.4" font-size="8" font-weight="bold" fill="#1a1a1a" textLength="63.9" lengthAdjust="spacingAndGlyphs">-log<tspan font-size="5.5" dy="1">10</tspan><tspan dy="-1">(adj. p-value)</tspan></text>
</svg>
</body></html>
